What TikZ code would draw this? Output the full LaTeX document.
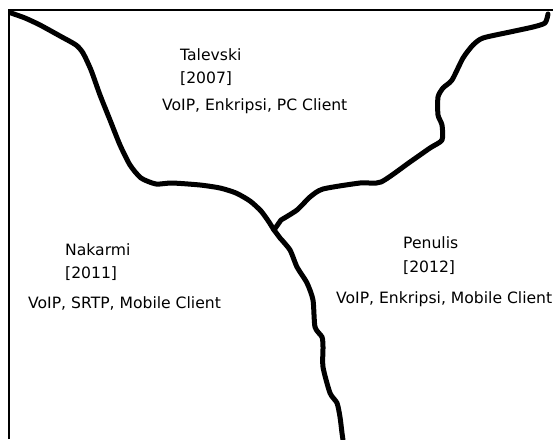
\documentclass[tikz,border=0pt]{standalone}
\usepackage{fontspec}
\setmainfont{DejaVu Sans}
\usepackage{tikz}

\begin{document}
\begin{tikzpicture}[x=1pt,y=-1pt,
    boundary/.style={line width=5pt, line cap=round, line join=round},
    label/.style={anchor=base west, inner sep=0pt, font=\fontsize{15.6}{18}\selectfont}]
            \useasboundingbox (0,0) rectangle (553,439);
            % frame
            \draw[line width=1.5pt] (9,439) -- (9,10) -- (553,10);
            % the three regions meet here
            \coordinate (junction) at (274,230);
            \draw[boundary] plot[smooth, tension=0.4] coordinates {(11,13) (25,18) (40,25) (60,36) (76,45) (83,53) (91,70) (100,95) (110,120) (120,145) (130,165) (141,178) (156,184) (172,183) (200,185) (220,188) (236,193) (250,201) (261,211) (269,222)} -- (junction);
            \draw[boundary] (junction) -- plot[smooth, tension=0.4] coordinates {(281,220) (297,210) (310,197) (323,189) (360,183) (381,182) (410,162) (430,148) (442,140) (442,125) (438,115) (438,97) (443,88) (452,80) (463,58) (473,45) (483,38) (510,32) (533,27) (545,23) (548,14)};
            \draw[boundary] (junction) -- plot[smooth, tension=0.4] coordinates {(280,238) (290,250) (297,267) (307,283) (313,300) (315,327) (322,337) (323,347) (323,367) (330,393) (337,403) (340,417) (342,433) (343,440)};
            % labels
            \node[label] (talevski) at (180,60) {Talevski};
            \node[label] (talevskiyear) at (180,83) {[2007]};
            \node[label] (talevskifit) at (162,110) {VoIP, Enkripsi, PC Client};
            \node[label] (nakarmi) at (65,255) {Nakarmi};
            \node[label] (nakarmiyear) at (65,278) {[2011]};
            \node[label] (nakarmifit) at (28,308) {VoIP, SRTP, Mobile Client};
            \node[label] (penulis) at (403,248) {Penulis};
            \node[label] (penulisyear) at (403,272) {[2012]};
            \node[label] (penulisfit) at (336,303) {VoIP, Enkripsi, Mobile Client};
        \end{tikzpicture}
\end{document}
